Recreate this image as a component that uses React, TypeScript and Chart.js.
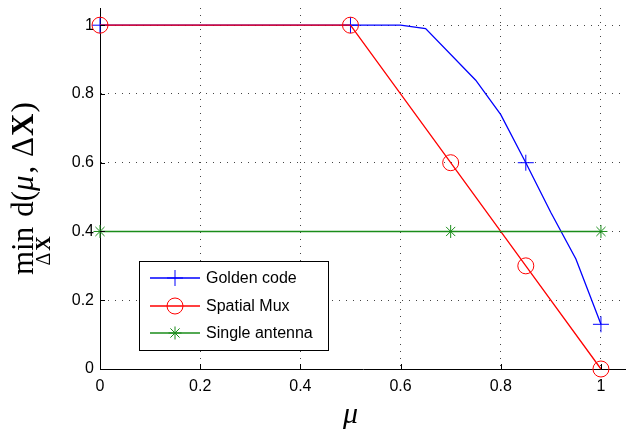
import React, { useEffect, useRef } from "react";
import { Chart, registerables } from "chart.js";

Chart.register(...registerables);

const seriesLabels = ["Golden code", "Spatial Mux", "Single antenna"];
const seriesColors = ["#0000ff", "#ff0000", "#1a8c1a"];

const goldenX = [0, 0.5, 0.6, 0.65, 0.75, 0.8, 0.85, 0.9, 0.95, 1];
const goldenY = [1, 1, 1, 0.99, 0.84, 0.74, 0.6, 0.455, 0.32, 0.13];
const goldenMarkerX = [0, 0.5, 0.85, 1];

const spatialX = [0, 0.5, 0.7, 0.85, 1];
const spatialY = [1, 1, 0.6, 0.3, 0];
const spatialMarkerX = [0, 0.5, 0.7, 0.85, 1];

const singleX = [0, 0.7, 1];
const singleY = [0.4, 0.4, 0.4];
const singleMarkerX = [0, 0.7, 1];

const xTicks = [0, 0.2, 0.4, 0.6, 0.8, 1];
const yTicks = [0, 0.2, 0.4, 0.6, 0.8, 1];

const SANS = "'Liberation Sans', Arial, Helvetica, sans-serif";
const SERIF = "'Liberation Serif', 'Times New Roman', serif";

function drawMarker(ctx: CanvasRenderingContext2D, style: string, x: number, y: number, r: number, color: string) {
  ctx.save();
  ctx.strokeStyle = color;
  ctx.lineWidth = 1;
  ctx.beginPath();
  if (style === "cross") {
    ctx.moveTo(x - r, y); ctx.lineTo(x + r, y);
    ctx.moveTo(x, y - r); ctx.lineTo(x, y + r);
  } else if (style === "circle") {
    ctx.arc(x, y, r, 0, Math.PI * 2);
  } else {
    ctx.moveTo(x - r, y); ctx.lineTo(x + r, y);
    ctx.moveTo(x, y - r); ctx.lineTo(x, y + r);
    const d = r * Math.SQRT1_2;
    ctx.moveTo(x - d, y - d); ctx.lineTo(x + d, y + d);
    ctx.moveTo(x - d, y + d); ctx.lineTo(x + d, y - d);
  }
  ctx.stroke();
  ctx.restore();
}

const markerStyles = ["cross", "circle", "star"];
const markerRadii = [8, 8, 6.5];

const decorPlugin = {
  id: "decor",
  afterDraw(chart: any) {
    const ctx: CanvasRenderingContext2D = chart.ctx;
    const area = chart.chartArea;
    const xs = chart.scales.x;
    const ys = chart.scales.y;

    // inward tick marks
    ctx.save();
    ctx.strokeStyle = "#000";
    ctx.lineWidth = 1;
    ctx.beginPath();
    xTicks.forEach((v) => {
      const px = Math.round(xs.getPixelForValue(v)) + 0.5;
      ctx.moveTo(px, area.bottom);
      ctx.lineTo(px, area.bottom - 5);
    });
    yTicks.forEach((v) => {
      const py = Math.round(ys.getPixelForValue(v)) + 0.5;
      ctx.moveTo(area.left, py);
      ctx.lineTo(area.left + 5, py);
    });
    ctx.stroke();
    ctx.restore();

    // legend
    const bx = 139.5, by = 261.5, bw = 189, bh = 89;
    ctx.save();
    ctx.fillStyle = "#fff";
    ctx.fillRect(bx, by, bw, bh);
    ctx.strokeStyle = "#000";
    ctx.lineWidth = 1;
    ctx.strokeRect(bx, by, bw, bh);
    const rows = [278, 306, 333];
    seriesLabels.forEach((lab, i) => {
      const y = rows[i];
      ctx.strokeStyle = seriesColors[i];
      ctx.lineWidth = 1.4;
      ctx.beginPath();
      ctx.moveTo(150, y);
      ctx.lineTo(200, y);
      ctx.stroke();
      drawMarker(ctx, markerStyles[i], 175, y, markerRadii[i], seriesColors[i]);
      ctx.fillStyle = "#000";
      ctx.font = `16px ${SANS}`;
      ctx.textAlign = "left";
      ctx.textBaseline = "middle";
      ctx.fillText(lab, 206, y + 1);
    });
    ctx.restore();

    // x title
    ctx.save();
    ctx.fillStyle = "#000";
    ctx.font = `italic 30px ${SERIF}`;
    ctx.textAlign = "center";
    ctx.textBaseline = "alphabetic";
    ctx.fillText("\u03bc", xs.getPixelForValue(0.5), 423);
    ctx.restore();

    // y title: min_{ΔX} d(μ, ΔX)
    ctx.save();
    ctx.fillStyle = "#000";
    ctx.translate(33, 275);
    ctx.rotate(-Math.PI / 2);
    ctx.textAlign = "left";
    ctx.textBaseline = "alphabetic";
    const big = `31px ${SERIF}`;
    const bigB = `bold 31px ${SERIF}`;
    const bigI = `italic 31px ${SERIF}`;
    const sm = `20px ${SERIF}`;
    const smB = `bold 20px ${SERIF}`;
    ctx.font = big;
    const wMin = ctx.measureText("min").width;
    ctx.fillText("min", 0, 0);
    ctx.font = sm;
    const wD = ctx.measureText("\u0394").width;
    ctx.font = smB;
    const wX = ctx.measureText("X").width;
    const sw = wD + wX + 2;
    const sx = (wMin - sw) / 2;
    ctx.font = sm;
    ctx.fillText("\u0394", sx, 17);
    ctx.font = smB;
    ctx.fillText("X", sx + wD + 2, 17);
    let x = wMin + 10;
    const parts: [string, string, number][] = [
      ["d(", big, 0],
      ["\u03bc", bigI, 2],
      [", ", big, 1],
      ["\u0394", big, 1],
      ["X", bigB, 1],
      [")", big, 0],
    ];
    parts.forEach(([t, f, gap]) => {
      ctx.font = f;
      ctx.fillText(t, x, 0);
      x += ctx.measureText(t).width + gap;
    });
    ctx.restore();
  },
};

function makeData(xsArr: number[], ysArr: number[]) {
  return xsArr.map((x, i) => ({ x, y: ysArr[i] }));
}

export default function App() {
  const ref = useRef<HTMLCanvasElement>(null);
  useEffect(() => {
    if (!ref.current) return;
    const allX = [goldenX, spatialX, singleX];
    const allY = [goldenY, spatialY, singleY];
    const allM = [goldenMarkerX, spatialMarkerX, singleMarkerX];
    const chart = new Chart(ref.current, {
      type: "line",
      data: {
        datasets: seriesLabels.map((label, i) => ({
          label,
          data: makeData(allX[i], allY[i]),
          borderColor: seriesColors[i],
          backgroundColor: "transparent",
          borderWidth: 1.3,
          pointStyle: markerStyles[i] as any,
          pointRadius: allX[i].map((v) => (allM[i].includes(v) ? markerRadii[i] : 0)),
          pointBorderColor: seriesColors[i],
          pointBackgroundColor: "transparent",
          pointBorderWidth: 1,
          pointHoverRadius: 0,
          tension: 0,
          fill: false,
          clip: false as any,
          order: 3 - i,
        })),
      },
      options: {
        animation: false,
        responsive: false,
        devicePixelRatio: 1,
        layout: { autoPadding: false, padding: { top: 8, left: 0, right: 0, bottom: 0 } },
        plugins: { legend: { display: false }, tooltip: { enabled: false }, title: { display: false } },
        scales: {
          x: {
            type: "linear",
            min: 0,
            max: 1.05,
            afterBuildTicks: (s: any) => {
              s.ticks = xTicks.map((v) => ({ value: v }));
            },
            afterFit: (s: any) => {
              s.height = 62;
              s.paddingLeft = 0;
              s.paddingRight = 0;
              s.paddingTop = 0;
              s.paddingBottom = 0;
            },
            grid: { color: "#444", lineWidth: 1, drawTicks: false },
            border: { display: true, color: "#000", width: 1, dash: [1, 6] },
            ticks: {
              color: "#000",
              font: { family: SANS, size: 16 },
              padding: 8,
              maxRotation: 0,
              callback: (v: any) => String(v),
            },
          },
          y: {
            type: "linear",
            min: 0,
            max: 1.05,
            afterBuildTicks: (s: any) => {
              s.ticks = yTicks.map((v) => ({ value: v }));
            },
            afterFit: (s: any) => {
              s.width = 100;
              s.paddingLeft = 0;
              s.paddingRight = 0;
              s.paddingTop = 0;
              s.paddingBottom = 0;
            },
            grid: { color: "#444", lineWidth: 1, drawTicks: false },
            border: { display: true, color: "#000", width: 1, dash: [1, 6] },
            ticks: {
              color: "#000",
              font: { family: SANS, size: 16 },
              padding: 6,
              callback: (v: any) => String(v),
            },
          },
        },
      },
      plugins: [decorPlugin],
    });
    return () => chart.destroy();
  }, []);
  return (
    <div style={{ position: "absolute", left: 0, top: 0, width: 626, height: 431, background: "#fff" }}>
      <canvas ref={ref} width={626} height={431} style={{ display: "block" }} />
    </div>
  );
}
